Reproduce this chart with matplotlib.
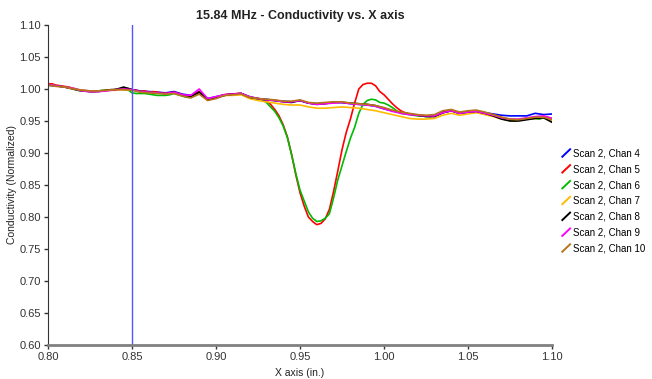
import numpy as np
import matplotlib
matplotlib.use("Agg")
import matplotlib.pyplot as plt
from matplotlib.lines import Line2D
from matplotlib.legend_handler import HandlerBase

plt.rcParams['font.family'] = ['Liberation Sans', 'DejaVu Sans']

# sample positions (in.)
x_coarse = np.linspace(0.80, 1.10, 61)   # 0.005 step
x_fine = np.linspace(0.80, 1.10, 121)    # 0.0025 step, used for the two channels with the flaw

chan4 = [1.006, 1.005, 1.003, 1.001, 0.998, 0.997, 0.997, 0.998, 0.999, 1.000,
         0.999, 0.997, 0.996, 0.995, 0.994, 0.996, 0.992, 0.990, 0.996, 0.985,
         0.988, 0.991, 0.992, 0.993, 0.988, 0.985, 0.984, 0.982, 0.981, 0.980,
         0.982, 0.978, 0.977, 0.978, 0.979, 0.979, 0.977, 0.976, 0.975, 0.973,
         0.969, 0.966, 0.963, 0.961, 0.959, 0.958, 0.958, 0.963, 0.966, 0.963,
         0.965, 0.965, 0.963, 0.961, 0.959, 0.958, 0.958, 0.958, 0.962, 0.960,
         0.961]

chan5 = [1.008, 1.008, 1.006, 1.005, 1.004, 1.003, 1.001, 0.999, 0.998, 0.997,
         0.996, 0.996, 0.997, 0.997, 0.998, 0.999, 0.999, 1.000, 1.000, 1.001,
         0.999, 0.998, 0.996, 0.997, 0.995, 0.996, 0.995, 0.994, 0.993, 0.994,
         0.995, 0.993, 0.991, 0.989, 0.988, 0.992, 0.996, 0.989, 0.984, 0.985,
         0.987, 0.989, 0.991, 0.992, 0.992, 0.993, 0.993, 0.990, 0.987, 0.986,
         0.985, 0.984, 0.982, 0.976, 0.968, 0.958, 0.944, 0.925, 0.898, 0.866,
         0.838, 0.817, 0.800, 0.793, 0.788, 0.790, 0.797, 0.812, 0.840, 0.872,
         0.905, 0.932, 0.953, 0.978, 1.000, 1.007, 1.009, 1.009, 1.005, 0.996,
         0.991, 0.984, 0.977, 0.971, 0.966, 0.963, 0.961, 0.960, 0.959, 0.958,
         0.958, 0.957, 0.958, 0.960, 0.964, 0.966, 0.967, 0.965, 0.963, 0.964,
         0.965, 0.966, 0.966, 0.964, 0.963, 0.961, 0.960, 0.958, 0.955, 0.953,
         0.952, 0.951, 0.952, 0.953, 0.954, 0.955, 0.955, 0.954, 0.957, 0.956,
         0.954]

chan6 = [1.006, 1.006, 1.005, 1.004, 1.003, 1.002, 1.000, 0.998, 0.997, 0.997,
         0.997, 0.997, 0.997, 0.998, 0.998, 0.999, 0.999, 1.000, 0.999, 0.999,
         0.994, 0.993, 0.993, 0.993, 0.992, 0.991, 0.990, 0.990, 0.990, 0.991,
         0.993, 0.991, 0.989, 0.987, 0.987, 0.990, 0.994, 0.988, 0.984, 0.985,
         0.987, 0.989, 0.990, 0.991, 0.991, 0.992, 0.992, 0.989, 0.986, 0.985,
         0.984, 0.983, 0.979, 0.972, 0.965, 0.955, 0.942, 0.924, 0.897, 0.868,
         0.842, 0.825, 0.808, 0.798, 0.793, 0.794, 0.798, 0.805, 0.830, 0.858,
         0.880, 0.902, 0.923, 0.940, 0.962, 0.976, 0.982, 0.984, 0.983, 0.979,
         0.978, 0.975, 0.971, 0.966, 0.962, 0.961, 0.960, 0.959, 0.958, 0.958,
         0.957, 0.957, 0.958, 0.960, 0.963, 0.965, 0.966, 0.964, 0.962, 0.963,
         0.964, 0.965, 0.965, 0.963, 0.962, 0.960, 0.958, 0.956, 0.954, 0.952,
         0.951, 0.950, 0.951, 0.952, 0.953, 0.954, 0.954, 0.953, 0.955, 0.954,
         0.952]

chan7 = [1.007, 1.005, 1.003, 1.001, 0.998, 0.997, 0.997, 0.998, 0.998, 0.999,
         0.998, 0.996, 0.995, 0.994, 0.993, 0.994, 0.990, 0.988, 0.994, 0.984,
         0.986, 0.990, 0.990, 0.991, 0.985, 0.982, 0.980, 0.978, 0.976, 0.975,
         0.975, 0.972, 0.970, 0.970, 0.971, 0.972, 0.971, 0.970, 0.968, 0.966,
         0.963, 0.960, 0.957, 0.954, 0.953, 0.953, 0.954, 0.959, 0.962, 0.959,
         0.961, 0.963, 0.960, 0.957, 0.953, 0.951, 0.951, 0.953, 0.954, 0.955,
         0.950]

chan8 = [1.006, 1.005, 1.003, 1.000, 0.997, 0.996, 0.996, 0.998, 0.999, 1.003,
         0.999, 0.996, 0.995, 0.994, 0.993, 0.995, 0.990, 0.988, 0.995, 0.983,
         0.986, 0.990, 0.992, 0.993, 0.987, 0.985, 0.983, 0.982, 0.980, 0.979,
         0.982, 0.978, 0.976, 0.977, 0.979, 0.979, 0.978, 0.977, 0.976, 0.974,
         0.970, 0.966, 0.963, 0.961, 0.959, 0.957, 0.957, 0.963, 0.966, 0.962,
         0.964, 0.965, 0.962, 0.958, 0.953, 0.950, 0.950, 0.952, 0.954, 0.955,
         0.948]

chan9 = [1.007, 1.005, 1.003, 1.001, 0.997, 0.996, 0.996, 0.997, 0.999, 1.000,
         0.999, 0.996, 0.995, 0.994, 0.993, 0.995, 0.991, 0.990, 1.000, 0.985,
         0.988, 0.991, 0.992, 0.993, 0.988, 0.985, 0.983, 0.982, 0.980, 0.980,
         0.982, 0.978, 0.976, 0.977, 0.978, 0.979, 0.977, 0.976, 0.975, 0.973,
         0.969, 0.965, 0.962, 0.960, 0.959, 0.958, 0.958, 0.963, 0.966, 0.962,
         0.964, 0.965, 0.962, 0.959, 0.955, 0.953, 0.953, 0.955, 0.957, 0.958,
         0.954]

chan10 = [1.006, 1.004, 1.003, 1.000, 0.998, 0.997, 0.997, 0.998, 0.999, 0.999,
          0.998, 0.995, 0.994, 0.993, 0.992, 0.993, 0.989, 0.986, 0.992, 0.982,
          0.985, 0.990, 0.991, 0.992, 0.987, 0.985, 0.984, 0.983, 0.981, 0.981,
          0.983, 0.979, 0.978, 0.979, 0.980, 0.980, 0.978, 0.977, 0.976, 0.974,
          0.971, 0.967, 0.964, 0.962, 0.960, 0.959, 0.960, 0.966, 0.968, 0.964,
          0.966, 0.967, 0.964, 0.960, 0.956, 0.953, 0.952, 0.954, 0.956, 0.956,
          0.952]

labels = ["Scan 2, Chan 4", "Scan 2, Chan 5", "Scan 2, Chan 6", "Scan 2, Chan 7",
          "Scan 2, Chan 8", "Scan 2, Chan 9", "Scan 2, Chan 10"]
colors = ["#0000ff", "#ff0000", "#00bb00", "#ffbb00", "#000000", "#ff00ff", "#b8741a"]
series = [(x_coarse, chan4), (x_fine, chan5), (x_fine, chan6), (x_coarse, chan7),
          (x_coarse, chan8), (x_coarse, chan9), (x_coarse, chan10)]
cursor_x = 0.85


class SlashHandler(HandlerBase):
    # legend key drawn as a short diagonal stroke
    def create_artists(self, legend, orig_handle, xdescent, ydescent,
                       width, height, fontsize, trans):
        ln = Line2D([-xdescent, -xdescent + width], [-ydescent, -ydescent + height],
                    color=orig_handle.get_color(), lw=1.4, transform=trans)
        return [ln]


fig = plt.figure(figsize=(6.52, 3.79), dpi=100)
ax = fig.add_axes([48 / 652, 34 / 379, 504 / 652, 320 / 379])

handles = []
for (xs, ys), lab, c in zip(series, labels, colors):
    h, = ax.plot(xs, ys, color=c, lw=1.2, label=lab)
    handles.append(h)

ax.axvline(cursor_x, color="#5555ff", lw=1)

ax.set_xlim(0.80, 1.10)
ax.set_ylim(0.60, 1.10)
ax.set_xticks(np.arange(0.80, 1.1001, 0.05))
ax.set_yticks(np.arange(0.60, 1.1001, 0.05))
ax.xaxis.set_major_formatter(plt.FormatStrFormatter('%.2f'))
ax.yaxis.set_major_formatter(plt.FormatStrFormatter('%.2f'))
ax.tick_params(labelsize=8, labelcolor="#333333", length=3, width=1, color="#333333",
               pad=2)

for s in ("top", "right"):
    ax.spines[s].set_visible(False)
ax.spines["left"].set_color("#333333")
ax.spines["bottom"].set_color("#808080")
ax.spines["bottom"].set_linewidth(2)

ax.set_title("15.84 MHz - Conductivity vs. X axis", fontsize=9, fontweight="bold",
             color="#222222", pad=4)
ax.set_xlabel("X axis (in.)", fontsize=7.5, color="#222222", labelpad=4)
ax.set_ylabel("Conductivity (Normalized)", fontsize=7.5, color="#222222", labelpad=2)

fig.legend(handles=handles, labels=labels, loc="center left",
           bbox_to_anchor=(0.852, 0.47), frameon=False, fontsize=7,
           handlelength=0.8, handleheight=0.8, handletextpad=0.25, labelspacing=0.6,
           borderpad=0.2, handler_map={Line2D: SlashHandler()})

fig.savefig("out.png", dpi=100)
